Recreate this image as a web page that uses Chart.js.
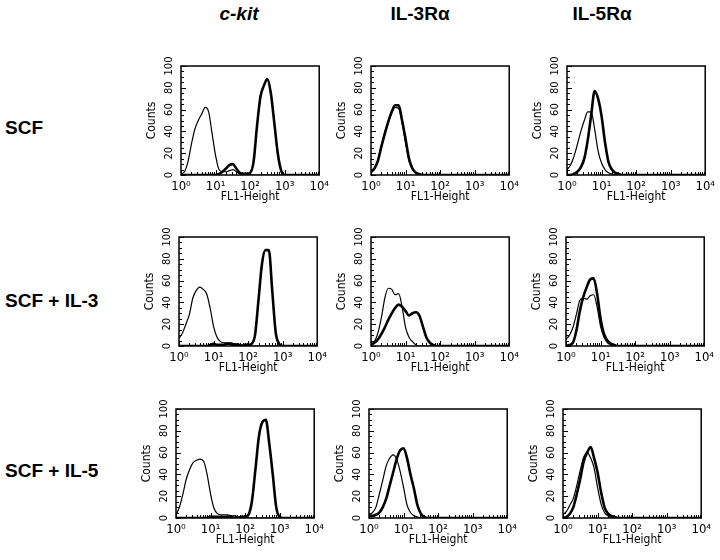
<!DOCTYPE html>
<html>
<head>
<meta charset="utf-8">
<script src="https://cdn.jsdelivr.net/npm/chart.js@4.4.1/dist/chart.umd.min.js"></script>
<style>
  body { margin: 0; background: #fff; width: 720px; height: 560px; position: relative; overflow: hidden; }
  .lbl { position: absolute; font-family: "Liberation Sans", Arial, sans-serif; font-weight: bold; font-size: 19px; color: #000; white-space: nowrap; }
  .col { transform: translateX(-50%); }
  canvas { position: absolute; }
</style>
</head>
<body>
<div class="lbl col" style="left:239px; top:3px; font-style:italic;">c-kit</div>
<div class="lbl col" style="left:420px; top:3px;">IL-3Rα</div>
<div class="lbl col" style="left:602px; top:3px;">IL-5Rα</div>
<div class="lbl" style="left:5px; top:117px;">SCF</div>
<div class="lbl" style="left:5px; top:290px;">SCF + IL-3</div>
<div class="lbl" style="left:5px; top:460px;">SCF + IL-5</div>
<script>
// FL1 channel positions, in decades (10^0 .. 10^4)
var channels = [0, 0.1, 0.2, 0.3, 0.4, 0.5, 0.6, 0.7, 0.8, 0.9,
                1, 1.1, 1.2, 1.3, 1.4, 1.5, 1.6, 1.7, 1.8, 1.9,
                2, 2.1, 2.2, 2.3, 2.4, 2.5, 2.6, 2.7, 2.8, 2.9,
                3, 3.1, 3.2, 3.3, 3.4, 3.5, 3.6, 3.7, 3.8, 3.9, 4];
var decadeTicks = [0, 1, 2, 3, 4];
var superDigits = ["⁰", "¹", "²", "³", "⁴"];
var countTicks = [0, 20, 40, 60, 80, 100];

var rowNames = ["SCF", "SCF + IL-3", "SCF + IL-5"];
var colNames = ["c-kit", "IL-3Rα", "IL-5Rα"];

// row 1: SCF
var ckitScfCtrl  = [1,3,12,28,42,50,56,62,58,38,18,5,3,3,4,5,3,1,0,0,0,0,0,0,0,0,0,0,0,0,0,0,0,0,0,0,0,0,0,0,0];
var ckitScfStain = [0,0,0,0,0,0,0,0,0,0,0,1,3,6,9,10,6,2,1,1,2,12,45,72,82,88,75,48,20,4,0,0,0,0,0,0,0,0,0,0,0];
var il3ScfCtrl   = [2,6,14,27,39,48,57,62,61,48,30,13,5,2,1,0,0,0,0,0,0,0,0,0,0,0,0,0,0,0,0,0,0,0,0,0,0,0,0,0,0];
var il3ScfStain  = [3,6,13,26,38,49,58,64,64,50,33,15,6,2,1,0,0,0,0,0,0,0,0,0,0,0,0,0,0,0,0,0,0,0,0,0,0,0,0,0,0];
var il5ScfCtrl   = [5,9,17,28,40,50,58,58,42,22,11,5,2,1,0,0,0,0,0,0,0,0,0,0,0,0,0,0,0,0,0,0,0,0,0,0,0,0,0,0,0];
var il5ScfStain  = [0,0,1,3,7,15,32,55,77,70,54,30,12,5,2,1,0,0,0,0,0,0,0,0,0,0,0,0,0,0,0,0,0,0,0,0,0,0,0,0,0];

// row 2: SCF + IL-3
var ckitIl3Ctrl  = [7,12,20,29,44,51,54,52,48,35,18,8,4,3,3,3,2,2,1,0,0,0,0,0,0,0,0,0,0,0,0,0,0,0,0,0,0,0,0,0,0];
var ckitIl3Stain = [0,0,0,0,0,0,0,0,0,1,2,1,1,1,2,2,1,1,0,1,1,2,10,42,75,88,88,50,12,2,0,0,0,0,0,0,0,0,0,0,0];
var il3Il3Ctrl   = [1,4,12,26,44,53,52,47,48,36,17,8,4,1,0,0,0,0,0,0,0,0,0,0,0,0,0,0,0,0,0,0,0,0,0,0,0,0,0,0,0];
var il3Il3Stain  = [1,3,6,11,17,24,30,35,38,36,32,28,30,31,28,18,8,3,1,0,0,0,0,0,0,0,0,0,0,0,0,0,0,0,0,0,0,0,0,0,0];
var il5Il3Ctrl   = [6,10,17,29,42,44,43,46,47,36,18,8,3,1,0,0,0,0,0,0,0,0,0,0,0,0,0,0,0,0,0,0,0,0,0,0,0,0,0,0,0];
var il5Il3Stain  = [0,1,3,14,32,45,54,61,62,48,25,11,5,2,1,0,0,0,0,0,0,0,0,0,0,0,0,0,0,0,0,0,0,0,0,0,0,0,0,0,0];

// row 3: SCF + IL-5
var ckitIl5Ctrl  = [3,10,22,36,45,51,53,54,52,40,22,9,4,3,3,3,2,2,1,1,0,0,0,0,0,0,0,0,0,0,0,0,0,0,0,0,0,0,0,0,0];
var ckitIl5Stain = [0,0,0,0,0,0,0,0,0,0,1,1,1,1,1,1,1,0,0,1,1,3,16,45,75,88,90,68,40,10,1,0,0,0,0,0,0,0,0,0,0];
var il3Il5Ctrl   = [3,5,10,22,35,48,55,58,54,43,28,12,5,2,1,0,0,0,0,0,0,0,0,0,0,0,0,0,0,0,0,0,0,0,0,0,0,0,0,0,0];
var il3Il5Stain  = [2,2,3,5,10,18,30,42,54,62,64,55,40,27,12,4,1,0,0,0,0,0,0,0,0,0,0,0,0,0,0,0,0,0,0,0,0,0,0,0,0];
var il5Il5Ctrl   = [3,6,12,18,30,44,56,60,55,46,28,13,5,2,1,0,0,0,0,0,0,0,0,0,0,0,0,0,0,0,0,0,0,0,0,0,0,0,0,0,0];
var il5Il5Stain  = [0,1,4,10,22,36,52,60,65,55,42,24,10,4,2,1,0,0,0,0,0,0,0,0,0,0,0,0,0,0,0,0,0,0,0,0,0,0,0,0,0];

var panels = [
  [[ckitScfCtrl, ckitScfStain], [il3ScfCtrl, il3ScfStain], [il5ScfCtrl, il5ScfStain]],
  [[ckitIl3Ctrl, ckitIl3Stain], [il3Il3Ctrl, il3Il3Stain], [il5Il3Ctrl, il5Il3Stain]],
  [[ckitIl5Ctrl, ckitIl5Stain], [il3Il5Ctrl, il3Il5Stain], [il5Il5Ctrl, il5Il5Stain]]
];

// plot box placement (layout only)
var rowTops = [66, 237, 409];
var rowLefts = [[181, 371, 567], [179, 371, 566], [176, 369, 563]];
var plotW = 144, plotH = 109;
var padL = 40, padT = 10, padR = 8, padB = 32;

var axisFont = "'Liberation Sans Narrow', 'Arial Narrow', 'DejaVu Sans Condensed', 'Liberation Sans', sans-serif";
Chart.defaults.font.family = axisFont;
Chart.defaults.color = "#000";

// box round the plot and small tick marks pointing inwards
var frame = {
  id: "frame",
  afterDraw: function (chart) {
    var ctx = chart.ctx, a = chart.chartArea, x = chart.scales.x, y = chart.scales.y;
    ctx.save();
    ctx.strokeStyle = "#000";
    ctx.lineWidth = 1.5;
    ctx.strokeRect(a.left, a.top, a.right - a.left, a.bottom - a.top);
    ctx.lineWidth = 1;
    ctx.beginPath();
    for (var v = 0; v <= 100; v += 5) {
      var py = Math.round(y.getPixelForValue(v)) + 0.5;
      var len = v % 20 === 0 ? 5 : 3;
      ctx.moveTo(a.left, py);
      ctx.lineTo(a.left + len, py);
    }
    for (var d = 0; d < 4; d++) {
      for (var k = 1; k < 10; k++) {
        var px = Math.round(x.getPixelForValue(d + Math.log10(k))) + 0.5;
        var l2 = k === 1 ? 5 : 3;
        ctx.moveTo(px, a.bottom);
        ctx.lineTo(px, a.bottom - l2);
      }
    }
    ctx.stroke();
    ctx.restore();
  }
};

function makePanel(r, c) {
  var canvas = document.createElement("canvas");
  canvas.width = plotW + padL + padR;
  canvas.height = plotH + padT + padB;
  canvas.style.left = (rowLefts[r][c] - padL) + "px";
  canvas.style.top = (rowTops[r] - padT) + "px";
  document.body.appendChild(canvas);

  var ctrl = panels[r][c][0], stain = panels[r][c][1];
  new Chart(canvas, {
    type: "line",
    data: {
      labels: channels,
      datasets: [
        { label: colNames[c] + " " + rowNames[r], data: stain, borderColor: "#000", borderWidth: 2.6,
          pointRadius: 0, cubicInterpolationMode: "monotone", fill: false },
        { label: "control", data: ctrl, borderColor: "#000", borderWidth: 1.2,
          pointRadius: 0, cubicInterpolationMode: "monotone", fill: false }
      ]
    },
    options: {
      responsive: false,
      animation: false,
      devicePixelRatio: 1,
      layout: { padding: { top: padT, right: padR, left: 0, bottom: 0 } },
      plugins: { legend: { display: false }, tooltip: { enabled: false } },
      scales: {
        x: {
          type: "linear", min: 0, max: 4,
          grid: { display: false, drawTicks: false },
          border: { display: false },
          afterBuildTicks: function (s) { s.ticks = decadeTicks.map(function (v) { return { value: v }; }); },
          afterFit: function (s) { s.height = padB; },
          ticks: {
            padding: 4, maxRotation: 0, autoSkip: false, font: { size: 13 },
            callback: function (v) { return "10" + superDigits[v]; }
          },
          title: { display: true, text: "FL1-Height", font: { size: 12 }, padding: { top: 2, bottom: 3 } }
        },
        y: {
          min: 0, max: 100,
          grid: { display: false, drawTicks: false },
          border: { display: false },
          afterBuildTicks: function (s) { s.ticks = countTicks.map(function (v) { return { value: v }; }); },
          afterFit: function (s) { s.width = padL; },
          ticks: { padding: 2, minRotation: 90, maxRotation: 90, crossAlign: "center", autoSkip: false, font: { size: 11 } },
          title: { display: true, text: "Counts", font: { size: 12 }, padding: { top: 4, bottom: 4 } }
        }
      }
    },
    plugins: [frame]
  });
}

for (var r = 0; r < 3; r++) {
  for (var c = 0; c < 3; c++) {
    makePanel(r, c);
  }
}
</script>
</body>
</html>
